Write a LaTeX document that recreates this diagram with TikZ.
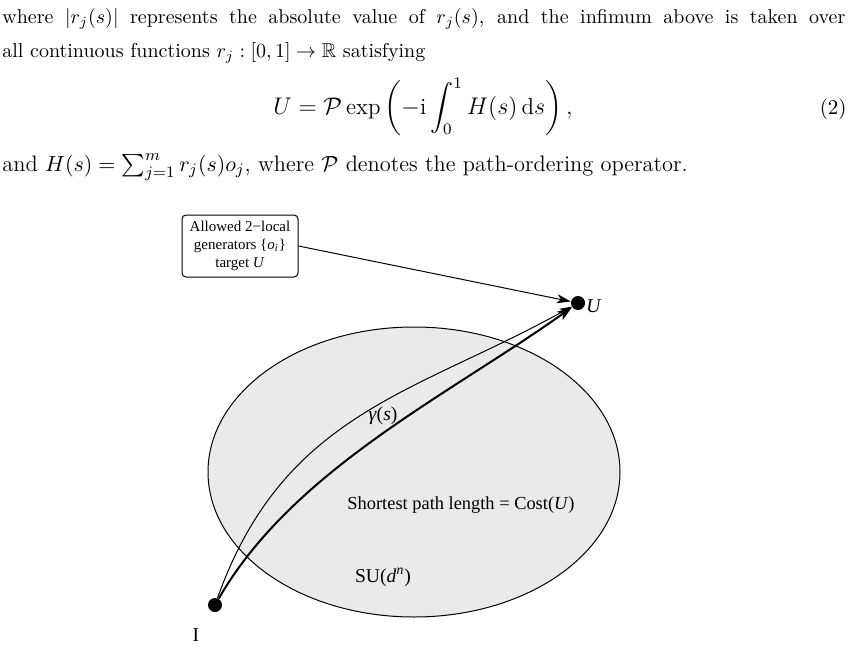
\documentclass[tikz,border=0pt]{standalone}
\usepackage{amssymb}
\usepackage{fontspec}
\newfontfamily\tms{Liberation Serif}
\usetikzlibrary{arrows.meta,shapes.geometric}
\definecolor{manifoldgray}{HTML}{EAEAEA}
\begin{document}
\begin{tikzpicture}[x=0.5pt,y=-0.5pt,
  txt/.style={inner sep=0pt, font=\fontsize{10}{12}\selectfont},
  lbl/.style={inner sep=0pt, font=\tms\fontsize{9.8}{11}\selectfont},
  genbox/.style={draw, rounded corners=2pt, line width=0.5pt, minimum width=58pt,
    minimum height=31pt, align=center, inner sep=1pt, font=\tms\fontsize{7.5}{9.2}\selectfont},
  dot/.style={circle, fill=black, inner sep=0pt, minimum size=7pt},
  manifold/.style={ellipse, draw, fill=manifoldgray, line width=0.5pt,
    minimum width=206pt, minimum height=145pt, inner sep=0pt},
  boxarrow/.style={-{Stealth[length=7pt,width=4.5pt,inset=2pt]}, line width=0.5pt},
  thincurve/.style={-{Stealth[length=6pt,width=4pt,inset=1.8pt]}, line width=0.5pt},
  thickcurve/.style={-{Stealth[length=7.5pt,width=5pt,inset=2pt]}, line width=1pt}]
\useasboundingbox (0,0) rectangle (851,648);

% text above the figure
\node[txt, anchor=base west] (l1) at (2,24)
  {\makebox[421.5pt][s]{where $|r_j(s)|$ represents the absolute value of $r_j(s)$, and the infimum above is taken over}};
\node[txt, anchor=base west] (l2) at (2,57)
  {all continuous functions $r_j:[0,1]\rightarrow\mathbb{R}$ satisfying};
\node[txt, anchor=base, font=\fontsize{11.5}{14}\selectfont] (eq) at (423,114)
  {$\displaystyle U=\mathcal{P}\exp\left(-\mathrm{i}\int_0^1 H(s)\,\mathrm{d}s\right),$};
\node[txt, anchor=base east, font=\fontsize{10.5}{13}\selectfont] (eqno) at (847,114) {(2)};
\node[txt, anchor=base west, font=\fontsize{11.2}{13}\selectfont] (l4) at (2,171)
  {and $H(s)=\sum_{j=1}^m r_j(s)o_j$, where $\mathcal{P}$ denotes the path-ordering operator.};

% figure
\node[manifold] (su) at (414,472) {};
\node[genbox] (gen) at (240,246)
  {Allowed 2−local\\generators \{\textit{o}\textsubscript{\textit{i}}\}\\target \textit{U}};
\node[dot] (U) at (578,303) {};
\node[dot] (I) at (215,605) {};

\node[lbl, anchor=base west] (Ulbl) at (586,312) {\textit{U}};
\node[lbl, anchor=base] (Ilbl) at (196,641) {I};
\node[lbl, anchor=base] (gamma) at (383,420) {\textit{γ}(\textit{s})};
\node[lbl, anchor=base, font=\tms\fontsize{9.2}{11}\selectfont] (cost) at (461,509) {Shortest path length = Cost(\textit{U})};
\node[lbl, anchor=base] (sulbl) at (383,582) {SU(\textit{d}\textsuperscript{\textit{n}})};

\draw[boxarrow] (gen.east) -- (U);
\draw[thincurve] (I) .. controls (284,412) and (415,394) .. (U);
\draw[thickcurve] (I) .. controls (293,470) and (447,396) .. (U);
\end{tikzpicture}
\end{document}
